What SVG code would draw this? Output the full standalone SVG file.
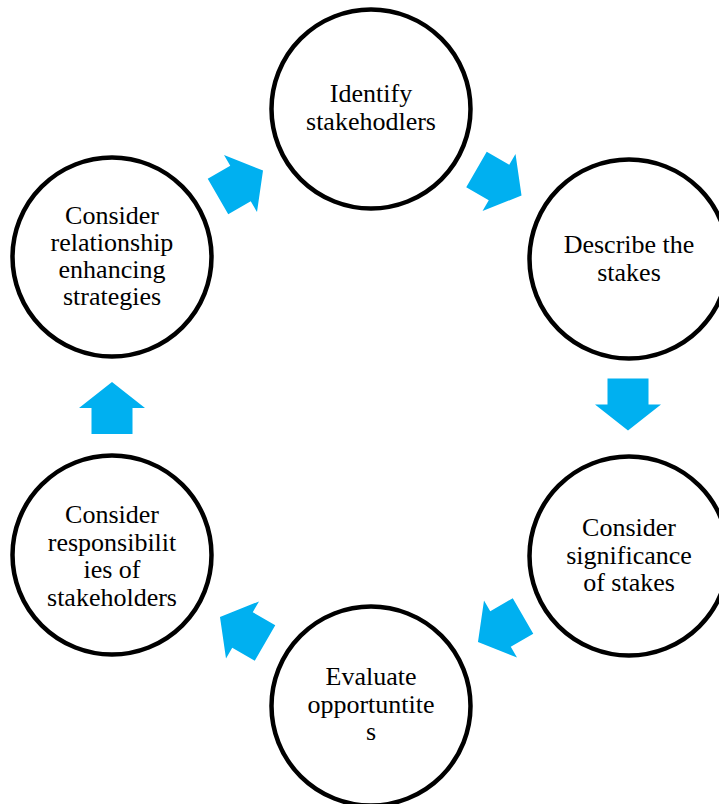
<svg xmlns="http://www.w3.org/2000/svg" width="719" height="804" viewBox="0 0 719 804">
<style>
.node circle{fill:#ffffff;stroke:#000000;stroke-width:4.5}
.node text{font-family:"Liberation Serif","Times New Roman",serif;font-size:26px;fill:#000000;text-anchor:middle}
.arrow{fill:#00B0F0}
</style>
<defs>
<path id="arr" d="M-26,-20.5 L0,-20.5 L0,-33 L26,0 L0,33 L0,20.5 L-26,20.5 Z"/>
</defs>
<rect width="719" height="804" fill="#ffffff"/>
<g id="connectors">
<use href="#arr" class="arrow" transform="translate(240.5,183.5) rotate(-30)"/>
<use href="#arr" class="arrow" transform="translate(499,182.5) rotate(30)"/>
<use href="#arr" class="arrow" transform="translate(628,404.5) rotate(90)"/>
<use href="#arr" class="arrow" transform="translate(500.5,629) rotate(150)"/>
<use href="#arr" class="arrow" transform="translate(242.5,630) rotate(210)"/>
<use href="#arr" class="arrow" transform="translate(112,408) rotate(-90)"/>
</g>
<g id="n1" class="node">
<circle cx="371" cy="109" r="99.5"/>
<text x="371" y="102">Identify</text>
<text x="371" y="130">stakehodlers</text>
</g>
<g id="n2" class="node">
<circle cx="629" cy="259" r="99.5"/>
<text x="629" y="253">Describe the</text>
<text x="629" y="281">stakes</text>
</g>
<g id="n3" class="node">
<circle cx="629" cy="556" r="99.5"/>
<text x="629" y="536">Consider</text>
<text x="629" y="563.5">significance</text>
<text x="629" y="591">of stakes</text>
</g>
<g id="n4" class="node">
<circle cx="371" cy="706" r="99.5"/>
<text x="371" y="685">Evaluate</text>
<text x="371" y="712.5">opportuntite</text>
<text x="371" y="740">s</text>
</g>
<g id="n5" class="node">
<circle cx="112" cy="555" r="99.5"/>
<text x="112" y="523">Consider</text>
<text x="112" y="550.5">responsibilit</text>
<text x="112" y="578">ies of</text>
<text x="112" y="605.5">stakeholders</text>
</g>
<g id="n6" class="node">
<circle cx="112" cy="257" r="99.5"/>
<text x="112" y="224">Consider</text>
<text x="112" y="251">relationship</text>
<text x="112" y="278">enhancing</text>
<text x="112" y="305">strategies</text>
</g>
</svg>
